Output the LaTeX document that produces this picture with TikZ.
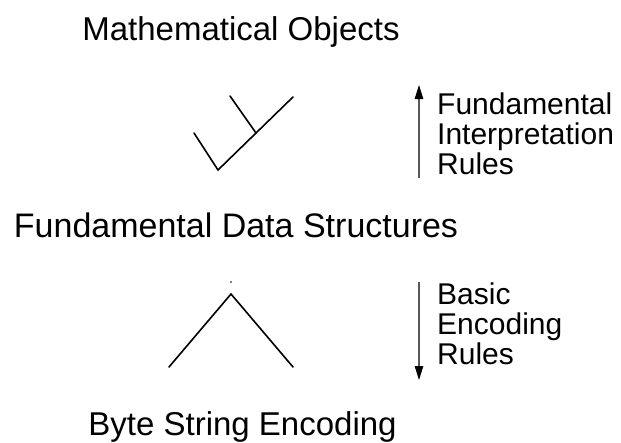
\documentclass[tikz,border=0pt]{standalone}
\usepackage{fontspec}
\setmainfont{Liberation Sans}
\usetikzlibrary{arrows.meta}
\tikzset{
  heading/.style={anchor=base, inner sep=0pt, font=\fontsize{33}{40}\selectfont},
  rulelabel/.style={anchor=base west, inner sep=0pt, align=left, font=\fontsize{30}{30}\selectfont},
  treeline/.style={line width=1.6pt, black, line cap=round, line join=miter},
  flowarrow/.style={line width=1.1pt, gray!70!black, -{Triangle[length=14pt,width=8.5pt,black]}}
}
\begin{document}
\begin{tikzpicture}[x=1pt,y=-1pt]
\useasboundingbox (0,0) rectangle (621,442);
% headings
\node[heading] (mo) at (241,40) {Mathematical Objects};
\node[heading, font=\fontsize{34}{40}\selectfont] (fds) at (236,237) {Fundamental Data Structures};
\node[heading] (bse) at (242.5,435) {Byte String Encoding};
% upper tree
\coordinate (t1a) at (194,133);
\coordinate (t1b) at (218,170);
\coordinate (t1c) at (293,97);
\coordinate (t1d) at (230,96);
\coordinate (t1e) at (256,133);
\draw[treeline] (t1a) -- (t1b) -- (t1c);
\draw[treeline] (t1d) -- (t1e);
% lower tree
\coordinate (t2a) at (169,367);
\coordinate (t2b) at (231,294);
\coordinate (t2c) at (293,367);
\draw[treeline] (t2a) -- (t2b) -- (t2c);
\fill[gray] (230.3,281.3) rectangle (231.7,282.7);
% arrows
\coordinate (a1s) at (419,178);
\coordinate (a1e) at (419,85);
\draw[flowarrow] (a1s) -- (a1e);
\coordinate (a2s) at (419,282);
\coordinate (a2e) at (419,380);
\draw[flowarrow] (a2s) -- (a2e);
% labels (base anchor is the last line's baseline)
\node[rulelabel] (fir) at (437,174) {Fundamental\\Interpretation\\Rules};
\node[rulelabel] (ber) at (437,364) {Basic\\Encoding\\Rules};
\end{tikzpicture}
\end{document}
